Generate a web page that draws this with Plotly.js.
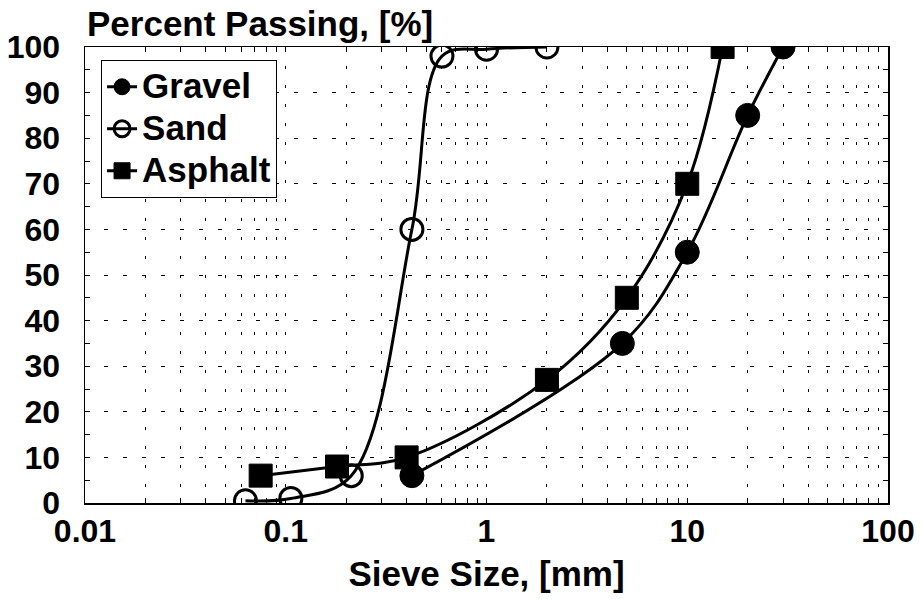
<!DOCTYPE html>
<html>
<head>
<meta charset="utf-8">
<script src="https://cdn.plot.ly/plotly-3.0.1.min.js"></script>
<style>
  html, body { margin: 0; padding: 0; background: #fff; }
  #chart { width: 921px; height: 599px; }
</style>
</head>
<body>
<div id="chart"></div>
<script>
// Data
var gravelSize = [0.425, 4.75, 10, 20, 30];
var gravelPass = [6, 35, 55, 85, 100];

var sandSize = [0.063, 0.106, 0.212, 0.425, 0.6, 1.0, 2.0];
var sandPass = [0.5, 1, 6, 60, 98, 99.5, 100];

var asphaltSize = [0.075, 0.18, 0.4, 2, 5, 10, 15];
var asphaltPass = [6, 8, 10, 27, 45, 70, 100];

var seriesNames = ['Gravel', 'Sand', 'Asphalt'];

var xTickVals = [0.01, 0.1, 1, 10, 100];
var xTickText = ['0.01', '0.1', '1', '10', '100'];
var xMinorVals = [];
[0.01, 0.1, 1, 10].forEach(function (d) {
  for (var k = 2; k <= 9; k++) xMinorVals.push(+(d * k).toPrecision(3));
});

var FONT = 'Liberation Sans, Arial, Helvetica, sans-serif';
var TICK = 32, BIG = 35;
var tickFont = { family: FONT, size: TICK, color: '#000', weight: 'bold' };
var bigFont = { family: FONT, size: BIG, color: '#000', weight: 'bold' };

function legendName(s) { return '<span style="font-size:' + BIG + 'px">' + s + '</span>'; }

var traces = [
  {
    name: legendName(seriesNames[0]), x: gravelSize, y: gravelPass, type: 'scatter', mode: 'lines+markers',
    line: { color: '#000', width: 3, shape: 'spline' },
    marker: { symbol: 'circle', size: 24, color: '#000', line: { color: '#000', width: 1 } }
  },
  {
    name: legendName(seriesNames[1]), x: sandSize, y: sandPass, type: 'scatter', mode: 'lines+markers',
    line: { color: '#000', width: 3, shape: 'spline' },
    marker: { symbol: 'circle-open', size: 22, color: '#000', line: { color: '#000', width: 3 } }
  },
  {
    name: legendName(seriesNames[2]), x: asphaltSize, y: asphaltPass, type: 'scatter', mode: 'lines+markers',
    line: { color: '#000', width: 3, shape: 'spline' },
    marker: { symbol: 'square', size: 23, color: '#000', line: { color: '#000', width: 1 } }
  }
];

var layout = {
  width: 921, height: 599,
  margin: { l: 85, r: 33, t: 47, b: 96 },
  paper_bgcolor: '#fff', plot_bgcolor: '#fff',
  font: tickFont,
  showlegend: true,
  legend: {
    x: 0.02, y: 0.972, xanchor: 'left', yanchor: 'top',
    bgcolor: '#fff', bordercolor: '#000', borderwidth: 1,
    font: { family: FONT, size: 30, color: '#000', weight: 'bold' },
    itemwidth: 30, tracegroupgap: 0
  },
  xaxis: {
    type: 'log', range: [-2, 2],
    tickmode: 'array', tickvals: xTickVals, ticktext: xTickText,
    ticks: 'inside', ticklen: 5, tickcolor: '#000', tickwidth: 1,
    showline: true, linecolor: '#000', linewidth: 1.5, mirror: 'allticks',
    showgrid: true, gridcolor: '#000', gridwidth: 1, griddash: '3px,16px',
    zeroline: false, ticklabelstandoff: -1,
    tickfont: tickFont,
    minor: {
      tickmode: 'array', tickvals: xMinorVals,
      ticks: 'inside', ticklen: 5, tickcolor: '#000', tickwidth: 1,
      showgrid: true, gridcolor: '#000', gridwidth: 1, griddash: '3px,16px'
    },
    title: { text: 'Sieve Size, [mm]', font: bigFont, standoff: 13 }
  },
  yaxis: {
    range: [0, 100], tickmode: 'linear', tick0: 0, dtick: 10,
    ticks: 'inside', ticklen: 5, tickcolor: '#000', tickwidth: 1,
    showline: true, linecolor: '#000', linewidth: 1.5, mirror: 'allticks',
    showgrid: true, gridcolor: '#000', gridwidth: 1, griddash: '4px,15px',
    zeroline: false, ticklabelstandoff: 17,
    tickfont: tickFont,
    minor: { dtick: 5, ticks: 'inside', ticklen: 5, tickcolor: '#000', tickwidth: 1, showgrid: false }
  },
  annotations: [{
    text: 'Percent Passing, [%]', xref: 'paper', yref: 'paper', x: 0, y: 1,
    xanchor: 'left', yanchor: 'bottom', showarrow: false, yshift: 2,
    font: bigFont
  }]
};

Plotly.newPlot('chart', traces, layout, { displayModeBar: false, staticPlot: true });
</script>
</body>
</html>
